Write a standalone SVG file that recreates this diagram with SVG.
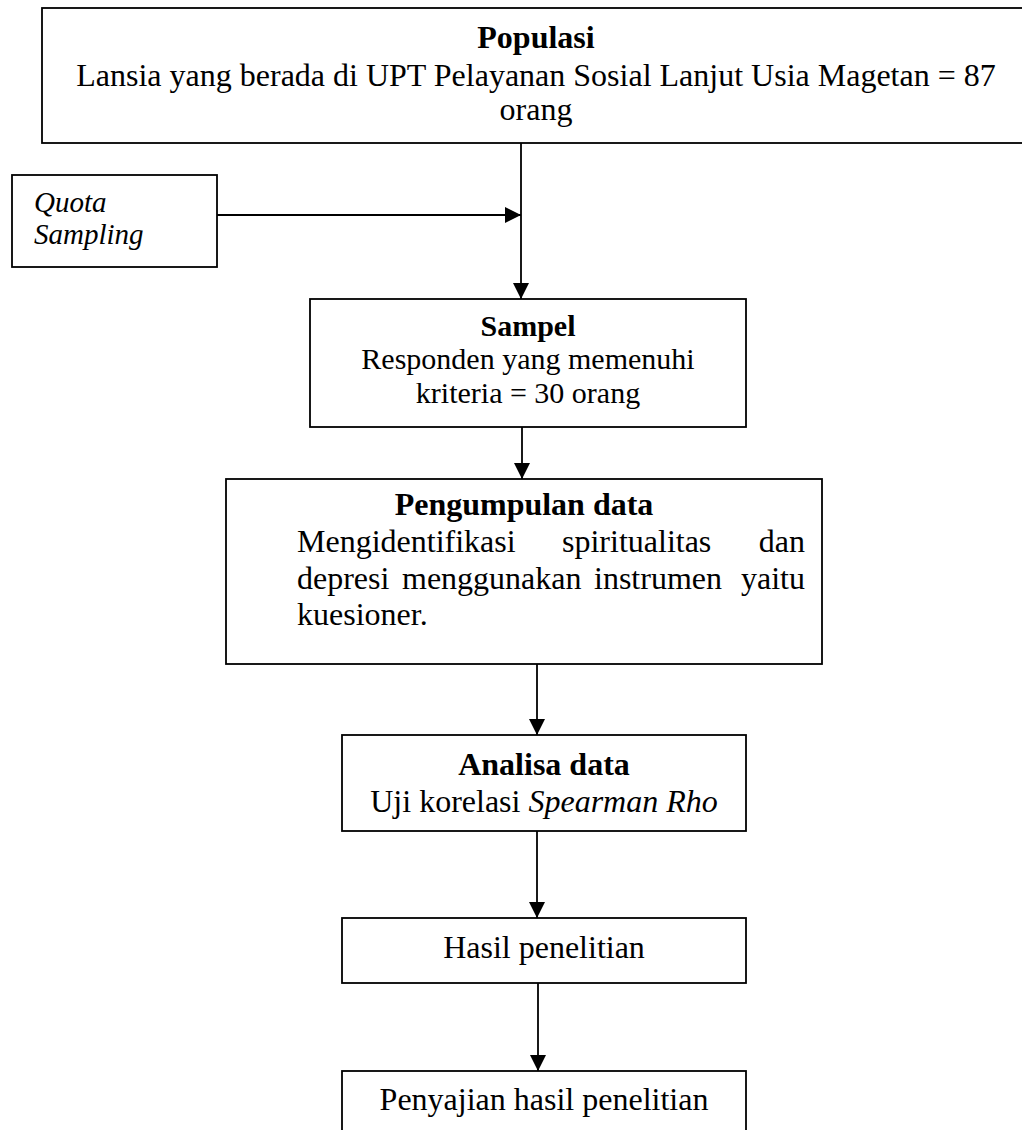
<svg xmlns="http://www.w3.org/2000/svg" width="1022" height="1130" viewBox="0 0 1022 1130">
<style>
.box{fill:#fff;stroke:#000;stroke-width:1.8}
.t{font-family:"Liberation Serif","Times New Roman",serif;font-size:32px;fill:#000}
.s{font-size:30px}
.q{font-size:29px}
.b{font-weight:bold}
.i{font-style:italic}
.c{text-anchor:middle}
.e{text-anchor:end}
.conn{stroke:#000;stroke-width:1.8;fill:none}
</style>
<defs>
<marker id="arr" markerUnits="userSpaceOnUse" markerWidth="16" markerHeight="16" viewBox="0 0 16 16" refX="16" refY="8" orient="auto">
<path d="M0,0 L16,8 L0,16 Z" fill="#000"/>
</marker>
</defs>
<g id="connectors">
<line class="conn" x1="217" y1="215" x2="521" y2="215" marker-end="url(#arr)"/>
<line class="conn" x1="521" y1="143" x2="521" y2="299" marker-end="url(#arr)"/>
<line class="conn" x1="522" y1="427" x2="522" y2="479" marker-end="url(#arr)"/>
<line class="conn" x1="537" y1="664" x2="537" y2="735" marker-end="url(#arr)"/>
<line class="conn" x1="537" y1="831" x2="537" y2="918" marker-end="url(#arr)"/>
<line class="conn" x1="538" y1="983" x2="538" y2="1071" marker-end="url(#arr)"/>
</g>
<g id="populasi">
<rect class="box" x="42" y="8" width="990" height="135"/>
<text class="t b c" x="536" y="48">Populasi</text>
<text class="t c" x="536" y="86">Lansia yang berada di UPT Pelayanan Sosial Lanjut Usia Magetan = 87</text>
<text class="t c" x="536" y="120">orang</text>
</g>
<g id="quota">
<rect class="box" x="12" y="175" width="205" height="92"/>
<text class="t q i" x="34" y="212">Quota</text>
<text class="t q i" x="34" y="244">Sampling</text>
</g>
<g id="sampel">
<rect class="box" x="310" y="299" width="436" height="128"/>
<text class="t s b c" x="528" y="336">Sampel</text>
<text class="t s c" x="528" y="369">Responden yang memenuhi</text>
<text class="t s c" x="528" y="403">kriteria = 30 orang</text>
</g>
<g id="pengumpulan">
<rect class="box" x="226" y="479" width="596" height="185"/>
<text class="t b c" x="524" y="515">Pengumpulan data</text>
<text class="t" x="297" y="552">Mengidentifikasi</text>
<text class="t" x="562" y="552">spiritualitas</text>
<text class="t e" x="805" y="552">dan</text>
<text class="t" x="297" y="589">depresi</text>
<text class="t" x="402" y="589">menggunakan</text>
<text class="t" x="594" y="589">instrumen</text>
<text class="t e" x="805" y="589">yaitu</text>
<text class="t" x="297" y="625">kuesioner.</text>
</g>
<g id="analisa">
<rect class="box" x="342" y="735" width="404" height="96"/>
<text class="t b c" x="544" y="775">Analisa data</text>
<text class="t c" x="544" y="812">Uji korelasi <tspan class="i">Spearman Rho</tspan></text>
</g>
<g id="hasil">
<rect class="box" x="342" y="918" width="404" height="65"/>
<text class="t c" x="544" y="958">Hasil penelitian</text>
</g>
<g id="penyajian">
<rect class="box" x="342" y="1071" width="404" height="80"/>
<text class="t c" x="544" y="1110">Penyajian hasil penelitian</text>
</g>
</svg>
